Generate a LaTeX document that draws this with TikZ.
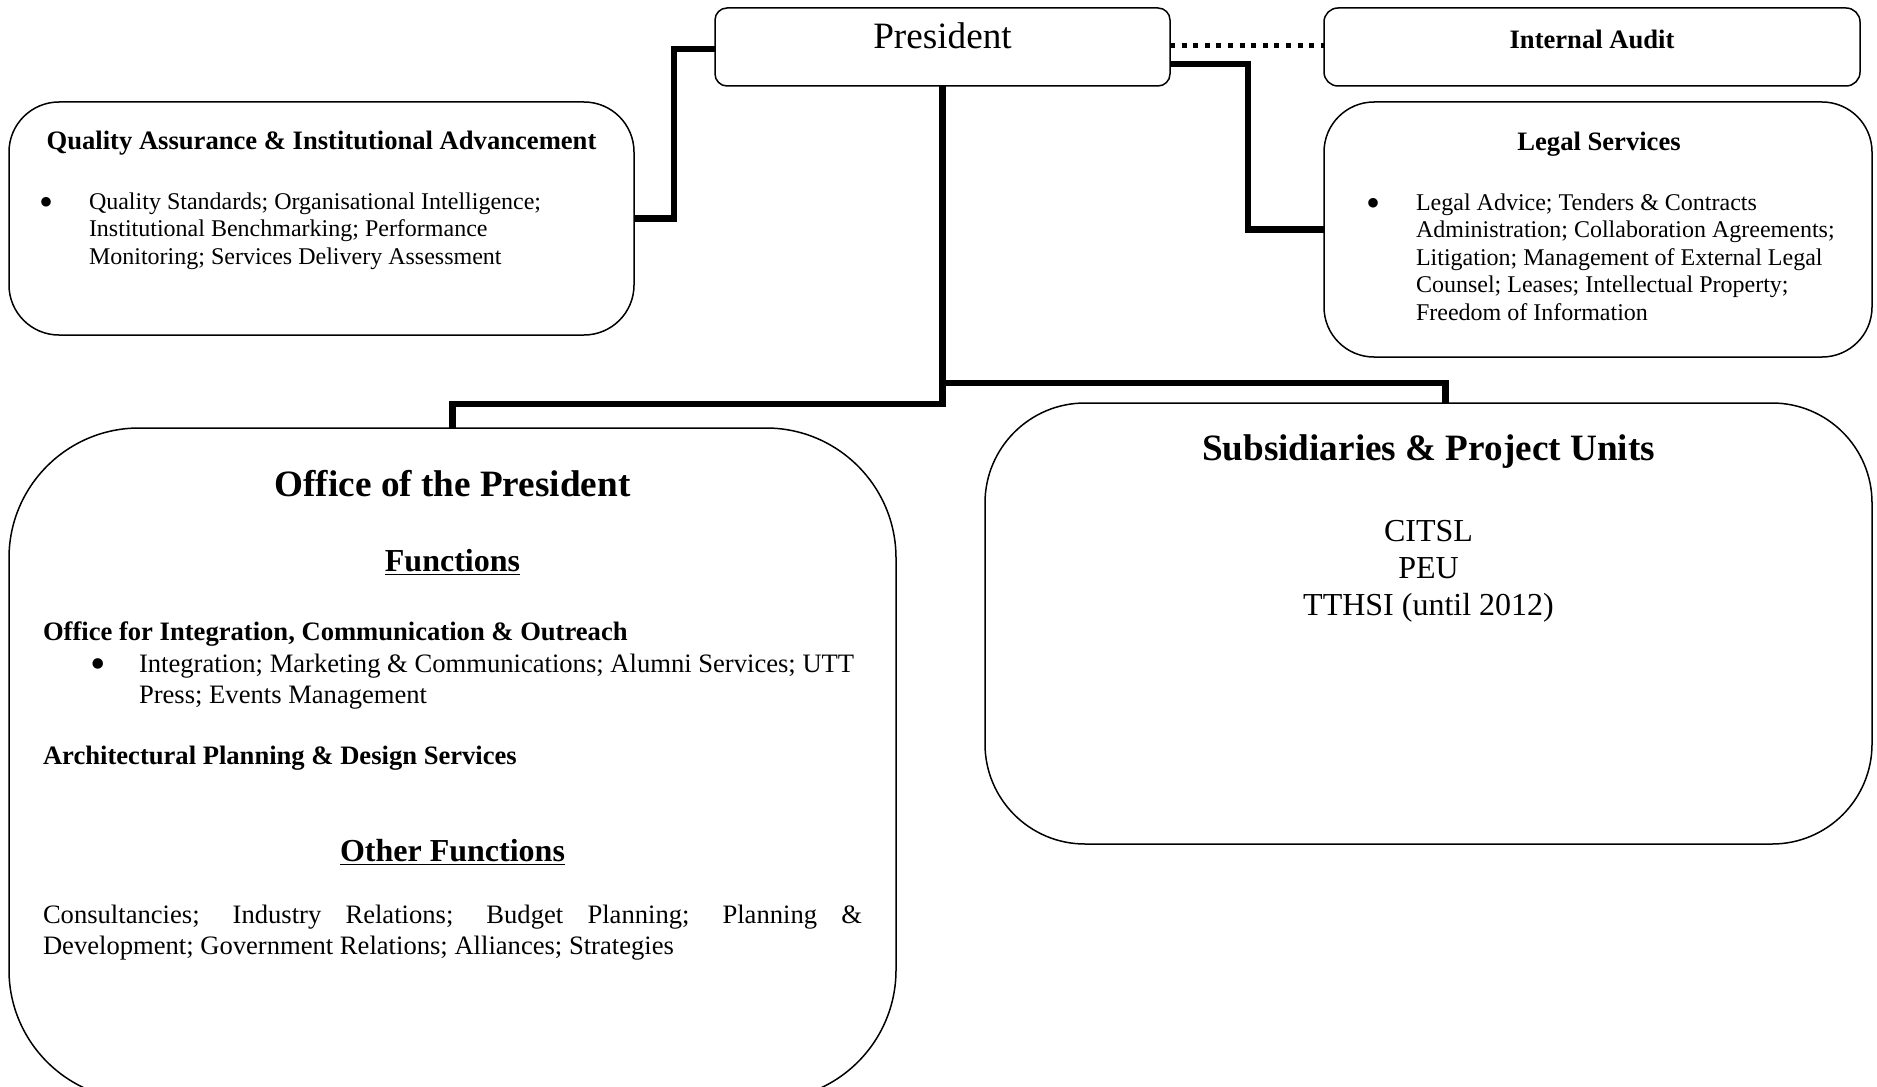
\documentclass[tikz,border=0pt]{standalone}
\usepackage{fontspec}
\setmainfont{Liberation Serif}
\usetikzlibrary{calc}
\tikzset{
  box/.style={draw, line width=0.75pt, inner sep=0pt, outer sep=0pt},
  conn/.style={line width=3.2pt, line join=miter},
  dotconn/.style={line width=2.5pt, dash pattern=on 2.5pt off 3.3pt},
  txt/.style={inner sep=0pt, outer sep=0pt},
  fbig/.style={txt, font=\fontsize{18.6}{21.5}\selectfont},
  fbigb/.style={txt, font=\fontsize{18.6}{21.5}\selectfont\bfseries},
  fmid/.style={txt, font=\fontsize{16}{18.5}\selectfont},
  fmidb/.style={txt, font=\fontsize{16}{18.5}\selectfont\bfseries},
  fhead/.style={txt, font=\fontsize{13.3}{15.5}\selectfont\bfseries},
  fbody/.style={txt, font=\fontsize{13.3}{15.5}\selectfont},
  fsmall/.style={txt, font=\fontsize{12}{14}\selectfont},
  bul/.style={txt, font=\fontsize{20}{20}\selectfont, anchor=base},
  bulb/.style={txt, font=\fontsize{22}{22}\selectfont, anchor=base},
}
\begin{document}
\begin{tikzpicture}[x=0.5pt,y=-0.5pt]
\useasboundingbox (0,0) rectangle (1877,1086);
\clip (0,0) rectangle (1877,1086);

% boxes
\node[box, rounded corners=6pt, minimum width=227.5pt, minimum height=39pt] (pres) at (942.5,47) {};
\node[box, rounded corners=7pt, minimum width=268pt, minimum height=39pt] (ia) at (1592,47) {};
\node[box, rounded corners=25pt, minimum width=312.5pt, minimum height=116.5pt] (qa) at (321.5,218.5) {};
\node[box, rounded corners=25pt, minimum width=274pt, minimum height=127.5pt] (legal) at (1598,229.5) {};
\node[box, rounded corners=65pt, minimum width=443.5pt, minimum height=336pt] (office) at (452.5,764) {};
\node[box, rounded corners=50pt, minimum width=443.5pt, minimum height=220.5pt] (subs) at (1428.5,623.5) {};

% connectors
\draw[conn] (qa.east) -- ++(40,0) |- ($(pres.west)+(0,2)$);
\draw[conn] ($(pres.east)+(0,17)$) -| ($(legal.west)+(-76,0)$) -- (legal.west);
\draw[dotconn] ($(pres.east)+(0,-1.5)$) -- ($(ia.west)+(0,-1.5)$);
\draw[conn] (pres.south) -- ++(0,318) -| (office.north);
\draw[conn] ($(pres.south)+(0,297)$) -| ($(subs.north)+(17,0)$);

% President / Internal Audit
\node[fbig, anchor=base] (prest) at (942.5,49) {President};
\node[fhead, anchor=base] (iat) at (1592,49) {Internal Audit};

% Quality Assurance
\node[fhead, anchor=base] (qah) at (321.5,149) {Quality Assurance \& Institutional Advancement};
\node[bul] (qab) at (47,215) {\textbullet};
\node[fsmall, anchor=base west] (qa1) at (89,209) {Quality Standards; Organisational Intelligence;};
\node[fsmall, anchor=base west] (qa2) at (89,236.5) {Institutional Benchmarking; Performance};
\node[fsmall, anchor=base west] (qa3) at (89,264) {Monitoring; Services Delivery Assessment};

% Legal Services
\node[fhead, anchor=base] (lgh) at (1599,150) {Legal Services};
\node[bul] (lgb) at (1373,216) {\textbullet};
\node[fsmall, anchor=base west] (lg1) at (1416,210) {Legal Advice; Tenders \& Contracts};
\node[fsmall, anchor=base west] (lg2) at (1416,237.5) {Administration; Collaboration Agreements;};
\node[fsmall, anchor=base west] (lg3) at (1416,265) {Litigation; Management of External Legal};
\node[fsmall, anchor=base west] (lg4) at (1416,292.5) {Counsel; Leases; Intellectual Property;};
\node[fsmall, anchor=base west] (lg5) at (1416,320) {Freedom of Information};

% Office of the President
\node[fbigb, anchor=base] (oft) at (452.5,496) {Office of the President};
\node[fmidb, anchor=base] (ofn) at (452.5,571) {\underline{Functions}};
\node[fhead, anchor=base west] (ofi) at (43,640) {Office for Integration, Communication \& Outreach};
\node[bulb] (ofb) at (98,678) {\textbullet};
\node[fbody, anchor=base west] (of1) at (139,672) {Integration; Marketing \& Communications; Alumni Services; UTT};
\node[fbody, anchor=base west] (of2) at (139,703) {Press; Events Management};
\node[fhead, anchor=base west] (ofa) at (43,764) {Architectural Planning \& Design Services};
\node[fmidb, anchor=base] (ofo) at (452.5,861) {\underline{Other Functions}};
\node[fbody, anchor=base west] (op1) at (43,923) {\makebox[409.5pt][s]{Consultancies; Industry Relations; Budget Planning; Planning \&}};
\node[fbody, anchor=base west] (op2) at (43,954) {Development; Government Relations; Alliances; Strategies};

% Subsidiaries
\node[fbigb, anchor=base] (sbt) at (1428.5,460) {Subsidiaries \& Project Units};
\node[fmid, anchor=base] (sb1) at (1428.5,541) {CITSL};
\node[fmid, anchor=base] (sb2) at (1428.5,578) {PEU};
\node[fmid, anchor=base] (sb3) at (1428.5,615) {TTHSI (until 2012)};
\end{tikzpicture}
\end{document}
